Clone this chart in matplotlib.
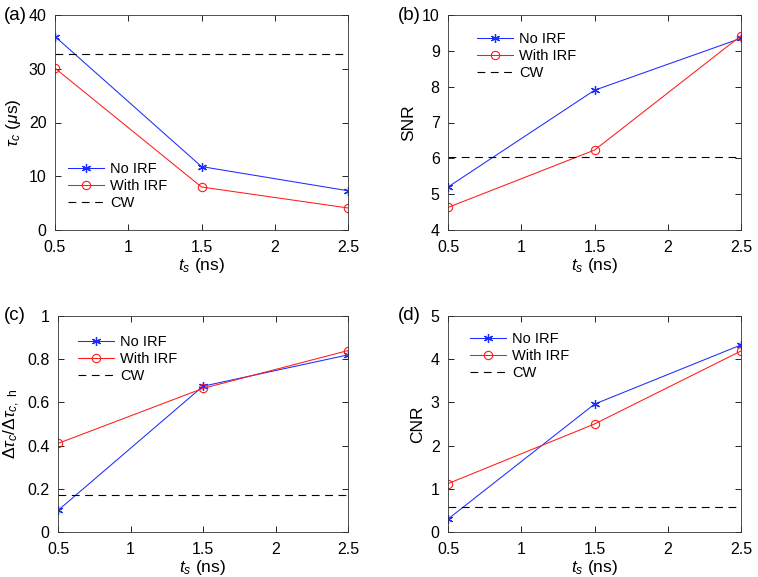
import matplotlib
matplotlib.use("Agg")
import matplotlib.pyplot as plt

plt.rcParams['font.family'] = ['Liberation Sans', 'DejaVu Sans']
plt.rcParams['mathtext.fontset'] = 'custom'
plt.rcParams['mathtext.it'] = 'Liberation Sans:italic'
plt.rcParams['mathtext.rm'] = 'Liberation Sans'

ts = [0.5, 1.5, 2.5]

tau_no_irf = [36.0, 11.8, 7.3]
tau_with_irf = [30.1, 8.0, 4.1]
tau_cw = 32.8

snr_no_irf = [5.2, 7.9, 9.35]
snr_with_irf = [4.63, 6.23, 9.42]
snr_cw = 6.05

ratio_no_irf = [0.10, 0.675, 0.82]
ratio_with_irf = [0.41, 0.665, 0.84]
ratio_cw = 0.17

cnr_no_irf = [0.30, 2.96, 4.33]
cnr_with_irf = [1.12, 2.50, 4.19]
cnr_cw = 0.58

xticks = [0.5, 1, 1.5, 2, 2.5]
xticklabels = ['0.5', '1', '1.5', '2', '2.5']

W, H = 758, 577
fig = plt.figure(figsize=(W / 100, H / 100), dpi=100)

def ax_at(l, t, r, b):
    return fig.add_axes([l / W, 1 - b / H, (r - l) / W, (b - t) / H])

panels = [
    dict(rect=(55, 15, 348, 230), no=tau_no_irf, wi=tau_with_irf, cw=tau_cw,
         ylim=(0, 40), yticks=[0, 10, 20, 30, 40], yticklabels=['0', '10', '20', '30', '40'],
         ylabel=r'$\tau_c$ ($\mu$s)', label='(a)', lab_xy=(4, 15),
         legend=dict(loc='lower left', bbox_to_anchor=(0.044, 0.093))),
    dict(rect=(448, 15, 741, 230), no=snr_no_irf, wi=snr_with_irf, cw=snr_cw,
         ylim=(4, 10), yticks=[4, 5, 6, 7, 8, 9, 10], yticklabels=['4', '5', '6', '7', '8', '9', '10'],
         ylabel='SNR', label='(b)', lab_xy=(398, 15),
         legend=dict(loc='upper left', bbox_to_anchor=(0.099, 0.921))),
    dict(rect=(58, 316, 348, 532), no=ratio_no_irf, wi=ratio_with_irf, cw=ratio_cw,
         ylim=(0, 1), yticks=[0, 0.2, 0.4, 0.6, 0.8, 1], yticklabels=['0', '0.2', '0.4', '0.6', '0.8', '1'],
         ylabel=r'$\Delta\tau_c/\Delta\tau_{c,\ \mathrm{h}}$', label='(c)', lab_xy=(4, 316),
         legend=dict(loc='upper left', bbox_to_anchor=(0.069, 0.912))),
    dict(rect=(448, 316, 741, 532), no=cnr_no_irf, wi=cnr_with_irf, cw=cnr_cw,
         ylim=(0, 5), yticks=[0, 1, 2, 3, 4, 5], yticklabels=['0', '1', '2', '3', '4', '5'],
         ylabel='CNR', label='(d)', lab_xy=(398, 316),
         legend=dict(loc='upper left', bbox_to_anchor=(0.075, 0.926))),
]

for p in panels:
    ax = ax_at(*p['rect'])
    ax.plot(ts, p['no'], color='#1a2cff', lw=0.75, marker=(6, 2, 0), ms=6.5, mew=0.9,
            label='No IRF')
    ax.plot(ts, p['wi'], color='#ff1a1a', lw=0.75, marker='o', ms=6, mfc='none',
            mew=0.8, label='With IRF')
    ax.axhline(p['cw'], color='black', lw=0.8, ls=(0, (7, 5)), label='CW')
    ax.set_xlim(0.5, 2.5)
    ax.set_ylim(*p['ylim'])
    ax.set_xticks(xticks)
    ax.set_xticklabels(xticklabels)
    ax.set_yticks(p['yticks'])
    ax.set_yticklabels(p['yticklabels'])
    ax.tick_params(direction='in', top=True, right=True, labelsize=11.5, length=4,
                   width=0.6)
    ax.tick_params(axis='x', pad=7)
    ax.tick_params(axis='y', pad=6)
    for s in ax.spines.values():
        s.set_linewidth(0.6)
        s.set_color('#333333')
    ax.set_xlabel(r'$t_s$ (ns)', fontsize=12.5, labelpad=1)
    ax.set_ylabel(p['ylabel'], fontsize=12.5, labelpad=4)
    ax.legend(frameon=False, fontsize=10.5, handlelength=2.5, handletextpad=0.4,
              labelspacing=0.2, borderaxespad=0, borderpad=0, **p['legend'])
    fig.text(p['lab_xy'][0] / W, 1 - p['lab_xy'][1] / H, p['label'], fontsize=13.5,
             ha='left', va='center')

fig.savefig('out.png', dpi=100)
